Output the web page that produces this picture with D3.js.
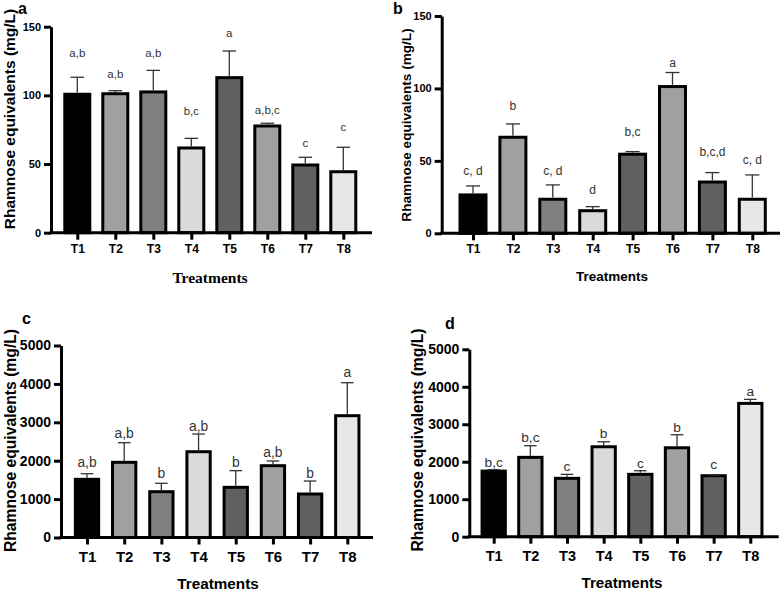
<!DOCTYPE html>
<html>
<head>
<meta charset="utf-8">
<script src="https://cdn.jsdelivr.net/npm/d3@7"></script>
<style>
  html, body { margin: 0; padding: 0; background: #fff; }
  svg { display: block; }
</style>
</head>
<body>
<svg id="chart" width="784" height="592"></svg>
<script>
// ---------------- DATA ----------------
const treatments = ["T1", "T2", "T3", "T4", "T5", "T6", "T7", "T8"];

// Panel a
const meanA = [100.8, 101.2, 102.5, 61.7, 112.9, 77.7, 49.3, 44.4];
const sdA = [12.4, 2.2, 15.7, 7.0, 19.4, 2.0, 5.6, 17.8];
const letterA = ["a,b", "a,b", "a,b", "b,c", "a", "a,b,c", "c", "c"];
const letterPosA = [130.6, 115.6, 130.6, 88.9, 145.7, 89.4, 65.5, 76.8];
const ticksA = [0, 50, 100, 150];

// Panel b
const meanB = [26.5, 66.3, 23.5, 15.6, 54.6, 101.3, 35.4, 23.5];
const sdB = [6.2, 9.2, 9.9, 2.8, 1.8, 9.7, 6.5, 16.8];
const letterB = ["c, d", "b", "c, d", "d", "b,c", "a", "b,c,d", "c, d"];
const letterPosB = [43, 88, 43, 30, 70, 118, 56.4, 51];
const ticksB = [0, 50, 100, 150];

// Panel c
const meanC = [1515, 1958, 1193, 2234, 1307, 1870, 1133, 3172];
const sdC = [146, 511, 218, 461, 433, 122, 338, 859];
const letterC = ["a,b", "a,b", "b", "a,b", "b", "a,b", "b", "a"];
const letterPosC = [1958, 2713, 1688, 2904, 1958, 2234, 1672, 4318];
const ticksC = [0, 1000, 2000, 3000, 4000, 5000];

// Panel d
const meanD = [1750, 2117, 1557, 2400, 1664, 2373, 1627, 3557];
const sdD = [40, 310, 107, 133, 96, 347, 23, 107];
const letterD = ["b,c", "b,c", "c", "b", "c", "b", "c", "a"];
const letterPosD = [1984, 2667, 1885, 2757, 1957, 2933, 1930, 3893];
const ticksD = [0, 1000, 2000, 3000, 4000, 5000];

const yTitleText = "Rhamnose equivalents (mg/L)";
const xTitleText = "Treatments";

// ---------------- STYLE / LAYOUT ----------------
const fills = ["#000000", "#a0a0a0", "#808080", "#dadada", "#606060", "#a0a0a0", "#606060", "#e7e7e7"];
const SANS = "'Liberation Sans', Arial, sans-serif";
const SERIF = "'Liberation Serif', 'Times New Roman', serif";

const panels = [
  { tag: "a", mean: meanA, sd: sdA, letters: letterA, letterPos: letterPosA, ticks: ticksA, yMax: 150,
    axX: 51, y0: 232.7, yTop: 26.7, c1: 77.3, c8: 343.3, bw: 25, xEnd: 372,
    tickFont: 11, xFont: 12, xLabelY: 249, letterFont: 11.5,
    yTitle: { x: 10, y: 119, size: 15.5 }, xTitle: { x: 210, y: 278, size: 15.5, family: SERIF },
    tagPos: { x: 18, y: 8, size: 16 } },
  { tag: "b", mean: meanB, sd: sdB, letters: letterB, letterPos: letterPosB, ticks: ticksB, yMax: 150,
    axX: 441.7, y0: 233.3, yTop: 16, c1: 473, c8: 752.3, bw: 26, xEnd: 780,
    tickFont: 11, xFont: 12, xLabelY: 249.3, letterFont: 12,
    yTitle: { x: 406, y: 125, size: 13.6 }, xTitle: { x: 612, y: 276, size: 13.5, family: SANS },
    tagPos: { x: 393, y: 8, size: 16 } },
  { tag: "c", mean: meanC, sd: sdC, letters: letterC, letterPos: letterPosC, ticks: ticksC, yMax: 5000,
    axX: 61, y0: 537.5, yTop: 345.5, c1: 87, c8: 347.3, bw: 23.3, xEnd: 373,
    tickFont: 14, xFont: 15, xLabelY: 556.7, letterFont: 13.8,
    yTitle: { x: 10, y: 440.5, size: 15.7 }, xTitle: { x: 218, y: 583.5, size: 15.3, family: SANS },
    tagPos: { x: 22, y: 318, size: 16 } },
  { tag: "d", mean: meanD, sd: sdD, letters: letterD, letterPos: letterPosD, ticks: ticksD, yMax: 5000,
    axX: 469.3, y0: 536.7, yTop: 349.3, c1: 493.7, c8: 750.3, bw: 23.3, xEnd: 778.7,
    tickFont: 14, xFont: 14.5, xLabelY: 555.7, letterFont: 13.7,
    yTitle: { x: 417, y: 440, size: 15.7 }, xTitle: { x: 622, y: 582.5, size: 15.2, family: SANS },
    tagPos: { x: 445, y: 323, size: 16 } }
];

const svg = d3.select("#chart");

panels.forEach(p => {
  const g = svg.append("g");
  const y = d3.scaleLinear().domain([0, p.yMax]).range([p.y0, p.yTop]);
  const x = d3.scalePoint().domain(treatments).range([p.c1, p.c8]);
  const rows = treatments.map((t, i) => ({ t, i, mean: p.mean[i], sd: p.sd[i], letter: p.letters[i], lp: p.letterPos[i] }));

  // bars
  g.selectAll("rect.bar").data(rows).join("rect")
    .attr("class", "bar")
    .attr("x", d => x(d.t) - p.bw / 2)
    .attr("y", d => y(d.mean))
    .attr("width", p.bw)
    .attr("height", d => y(0) - y(d.mean))
    .attr("fill", d => fills[d.i])
    .attr("stroke", "#000")
    .attr("stroke-width", 3);

  // error bars (upper only)
  const eb = g.selectAll("g.err").data(rows).join("g").attr("class", "err")
    .attr("stroke", "#333").attr("stroke-width", 1.3);
  eb.append("line")
    .attr("x1", d => x(d.t)).attr("x2", d => x(d.t))
    .attr("y1", d => y(d.mean) - 1.5).attr("y2", d => y(d.mean + d.sd));
  eb.append("line")
    .attr("x1", d => x(d.t) - p.bw * 0.27).attr("x2", d => x(d.t) + p.bw * 0.27)
    .attr("y1", d => y(d.mean + d.sd)).attr("y2", d => y(d.mean + d.sd));

  // significance letters
  g.selectAll("text.letter").data(rows).join("text")
    .attr("class", "letter")
    .attr("x", d => x(d.t))
    .attr("y", d => y(d.lp))
    .attr("dy", "0.35em")
    .attr("text-anchor", "middle")
    .attr("font-family", SANS)
    .attr("font-size", p.letterFont)
    .attr("fill", "#333")
    .text(d => d.letter);

  // y axis
  const ya = g.append("g").attr("transform", `translate(${p.axX},0)`)
    .call(d3.axisLeft(y).tickValues(p.ticks).tickFormat(d3.format("d")).tickSize(7).tickSizeOuter(0).tickPadding(3));
  ya.select(".domain").attr("stroke", "#000").attr("stroke-width", 3);
  ya.selectAll(".tick line").attr("stroke", "#000").attr("stroke-width", 3);
  ya.selectAll(".tick text").attr("font-family", SANS).attr("font-weight", "bold")
    .attr("font-size", p.tickFont).attr("fill", "#000");

  // x axis
  g.append("line")
    .attr("x1", p.axX - 1.5).attr("x2", p.xEnd)
    .attr("y1", p.y0).attr("y2", p.y0)
    .attr("stroke", "#000").attr("stroke-width", 3);
  const xa = g.append("g").attr("transform", `translate(0,${p.y0})`)
    .call(d3.axisBottom(x).tickSize(7).tickSizeOuter(0));
  xa.select(".domain").remove();
  xa.selectAll(".tick line").attr("stroke", "#000").attr("stroke-width", 3);
  xa.selectAll(".tick text")
    .attr("y", p.xLabelY - p.y0).attr("dy", "0.35em")
    .attr("font-family", SANS).attr("font-weight", "bold")
    .attr("font-size", p.xFont).attr("fill", "#000");

  // axis titles
  g.append("text")
    .attr("transform", `translate(${p.yTitle.x},${p.yTitle.y}) rotate(-90)`)
    .attr("text-anchor", "middle").attr("dy", "0.35em")
    .attr("font-family", SANS).attr("font-weight", "bold")
    .attr("font-size", p.yTitle.size)
    .text(yTitleText);
  g.append("text")
    .attr("x", p.xTitle.x).attr("y", p.xTitle.y)
    .attr("text-anchor", "middle").attr("dy", "0.35em")
    .attr("font-family", p.xTitle.family).attr("font-weight", "bold")
    .attr("font-size", p.xTitle.size)
    .text(xTitleText);

  // panel tag
  g.append("text")
    .attr("x", p.tagPos.x).attr("y", p.tagPos.y)
    .attr("dy", "0.35em")
    .attr("font-family", SANS).attr("font-weight", "bold")
    .attr("font-size", p.tagPos.size)
    .text(p.tag);
});
</script>
</body>
</html>
